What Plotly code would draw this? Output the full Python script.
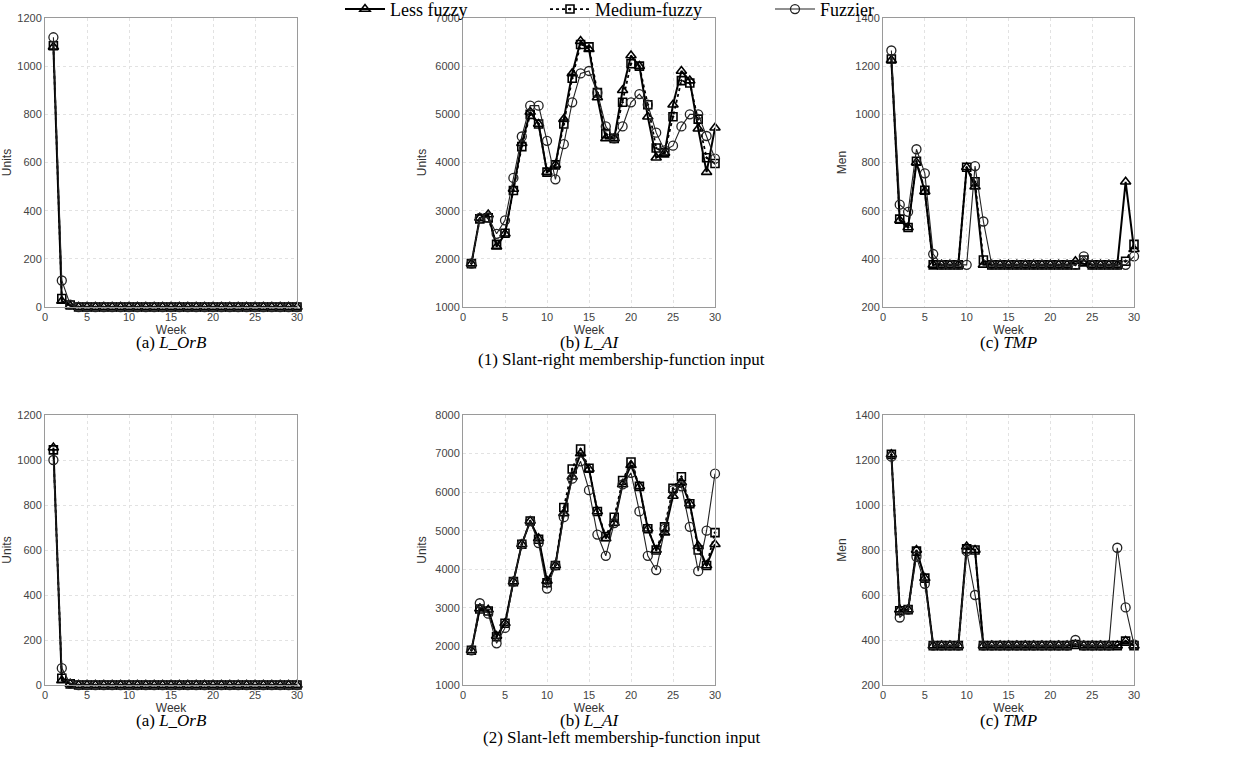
import plotly.graph_objects as go

# ---- data -----------------------------------------------------------------
weeks = list(range(1, 31))
series_names = ["Less fuzzy", "Medium-fuzzy", "Fuzzier"]

# (1) Slant-right membership-function input
r1_orb_less = [1080, 25, 5] + [0] * 27
r1_orb_med = [1085, 35, 8] + [0] * 27
r1_orb_fuzz = [1120, 110, 10] + [0] * 27

r1_ai_less = [1900, 2850, 2920, 2250, 2520, 3450, 4400, 5050, 4800, 3800,
              3950, 4900, 5850, 6520, 6350, 5350, 4500, 4500, 5500, 6220,
              6000, 4950, 4100, 4200, 5200, 5900, 5700, 4700, 3800, 4720]
r1_ai_med = [1900, 2830, 2850, 2300, 2530, 3420, 4330, 5000, 4800, 3800,
             3950, 4800, 5750, 6450, 6400, 5450, 4600, 4500, 5250, 6050,
             6000, 5200, 4300, 4200, 4950, 5700, 5650, 4900, 4100, 3980]
r1_ai_fuzz = [1900, 2850, 2860, 2520, 2800, 3680, 4540, 5180, 5180, 4450,
              3650, 4380, 5250, 5850, 5900, 5450, 4750, 4500, 4750, 5250,
              5420, 5200, 4620, 4250, 4350, 4750, 5000, 5000, 4550, 4080]

r1_tmp_less = [1225, 560, 530, 800, 680, 375, 375, 375, 375, 780,
               700, 375, 375, 375, 375, 375, 375, 375, 375, 375,
               375, 375, 390, 380, 375, 375, 375, 375, 720, 440]
r1_tmp_med = [1230, 565, 530, 805, 685, 375, 375, 375, 375, 780,
              720, 395, 375, 375, 375, 375, 375, 375, 375, 375,
              375, 375, 375, 395, 375, 375, 375, 375, 390, 460]
r1_tmp_fuzz = [1265, 625, 595, 855, 755, 420, 375, 375, 375, 375,
               785, 555, 375, 375, 375, 375, 375, 375, 375, 375,
               375, 375, 375, 410, 375, 375, 375, 375, 375, 410]

# (2) Slant-left membership-function input
r2_orb_less = [1055, 20, 5] + [0] * 27
r2_orb_med = [1045, 30, 5] + [0] * 27
r2_orb_fuzz = [1000, 75, 5] + [0] * 27

r2_ai_less = [1900, 2980, 2950, 2270, 2600, 3680, 4650, 5250, 4800, 3700,
              4100, 5450, 6400, 7000, 6600, 5500, 4800, 5200, 6200, 6700,
              6150, 5050, 4500, 4950, 5900, 6250, 5700, 4600, 4100, 4650]
r2_ai_med = [1900, 2970, 2920, 2250, 2600, 3680, 4650, 5250, 4780, 3650,
             4100, 5600, 6600, 7120, 6620, 5500, 4850, 5350, 6300, 6780,
             6150, 5050, 4500, 5100, 6100, 6400, 5700, 4500, 4100, 4950]
r2_ai_fuzz = [1900, 3120, 2850, 2080, 2480, 3680, 4650, 5250, 4680, 3500,
              4100, 5350, 6350, 6800, 6050, 4900, 4350, 5200, 6200, 6500,
              5500, 4350, 3980, 5050, 6050, 6150, 5100, 3950, 5000, 6480]

r2_tmp_less = [1225, 535, 535, 800, 675, 375, 375, 375, 375, 815,
               800, 375, 375, 375, 375, 375, 375, 375, 375, 375,
               375, 375, 380, 375, 375, 375, 375, 375, 395, 375]
r2_tmp_med = [1225, 530, 535, 795, 675, 375, 375, 375, 375, 805,
              800, 375, 375, 375, 375, 375, 375, 375, 375, 375,
              375, 375, 380, 375, 375, 375, 375, 375, 395, 375]
r2_tmp_fuzz = [1215, 500, 535, 770, 650, 375, 375, 375, 375, 795,
               600, 375, 375, 375, 375, 375, 375, 375, 375, 375,
               375, 375, 400, 375, 375, 375, 375, 810, 545, 380]

y_titles = ["Units", "Units", "Men"]
y_ranges = [[[0, 1200], [1000, 7000], [200, 1400]],
            [[0, 1200], [1000, 8000], [200, 1400]]]
y_dticks = [[200, 1000, 200], [200, 1000, 200]]
panel_captions = ["(a) <i>L_OrB</i>", "(b) <i>L_AI</i>", "(c) <i>TMP</i>"]
row_captions = ["(1) Slant-right membership-function input",
                "(2) Slant-left membership-function input"]

panels = [
    [(r1_orb_less, r1_orb_med, r1_orb_fuzz),
     (r1_ai_less, r1_ai_med, r1_ai_fuzz),
     (r1_tmp_less, r1_tmp_med, r1_tmp_fuzz)],
    [(r2_orb_less, r2_orb_med, r2_orb_fuzz),
     (r2_ai_less, r2_ai_med, r2_ai_fuzz),
     (r2_tmp_less, r2_tmp_med, r2_tmp_fuzz)],
]

# ---- layout geometry (pixels -> paper fractions) --------------------------
W, H = 1240, 764
col_px = [(45, 297), (463, 715), (883, 1134)]
row_px = [(18, 307), (415, 685)]
legend_left_px = [340, 545, 770]
legend_keys = ["legend", "legend2", "legend3"]

styles = [
    dict(line=dict(color="black", width=2, dash="solid"),
         marker=dict(symbol="triangle-up-open", size=9,
                     line=dict(color="black", width=1.6))),
    dict(line=dict(color="black", width=1.8, dash="dot"),
         marker=dict(symbol="square-open-dot", size=8,
                     line=dict(color="black", width=1.6))),
    dict(line=dict(color="#222222", width=1.1, dash="solid"),
         marker=dict(symbol="circle-open", size=9,
                     line=dict(color="#222222", width=1.3))),
]

fig = go.Figure()
tick_font = dict(family="Liberation Sans, Arial", size=11, color="#444444")
title_font = dict(family="Liberation Sans, Arial", size=12, color="#333333")
cap_font = dict(family="Liberation Serif, Times New Roman", size=17, color="black")
legend_font = dict(family="Liberation Serif, Times New Roman", size=18, color="black")

axis_idx = 0
for r in range(2):
    y0px, y1px = row_px[r]
    ydom = [1 - y1px / H, 1 - y0px / H]
    for c in range(3):
        axis_idx += 1
        x0px, x1px = col_px[c]
        xdom = [x0px / W, x1px / W]
        suffix = "" if axis_idx == 1 else str(axis_idx)
        xa, ya = "x" + suffix, "y" + suffix
        for k, vals in enumerate(panels[r][c]):
            fig.add_trace(go.Scatter(
                x=weeks, y=vals, mode="lines+markers", name=series_names[k],
                legend=legend_keys[k], showlegend=(axis_idx == 1),
                xaxis=xa, yaxis=ya, cliponaxis=False, **styles[k]))
        common = dict(showline=True, mirror=True, linecolor="#9a9a9a",
                      linewidth=1, showgrid=True, gridcolor="#e2e2e2",
                      griddash="dot", gridwidth=1, zeroline=False,
                      ticks="", tickfont=tick_font)
        fig.layout["xaxis" + suffix] = dict(
            domain=xdom, anchor=ya, range=[0, 30], dtick=5, tick0=0,
            title=dict(text="Week", font=title_font, standoff=0), **common)
        fig.layout["yaxis" + suffix] = dict(
            domain=ydom, anchor=xa, range=y_ranges[r][c], dtick=y_dticks[r][c],
            title=dict(text=y_titles[c], font=title_font, standoff=6), **common)
        fig.add_annotation(text=panel_captions[c], xref="paper", yref="paper",
                           x=(x0px + x1px) / 2 / W, y=1 - (y1px + 35) / H,
                           xanchor="center", yanchor="middle",
                           showarrow=False, font=cap_font)
    fig.add_annotation(text=row_captions[r], xref="paper", yref="paper",
                       x=621 / W, y=1 - (y1px + 52) / H,
                       xanchor="center", yanchor="middle",
                       showarrow=False, font=cap_font)

legend_common = dict(orientation="h", xanchor="left", y=1.012, yanchor="top",
                     font=legend_font, itemwidth=40, bgcolor="rgba(0,0,0,0)")
fig.update_layout(
    width=W, height=H,
    margin=dict(l=0, r=0, t=0, b=0, autoexpand=False),
    paper_bgcolor="white", plot_bgcolor="white",
    legend=dict(x=legend_left_px[0] / W, **legend_common),
    legend2=dict(x=legend_left_px[1] / W, **legend_common),
    legend3=dict(x=legend_left_px[2] / W, **legend_common),
)

fig.write_html("out.html")
